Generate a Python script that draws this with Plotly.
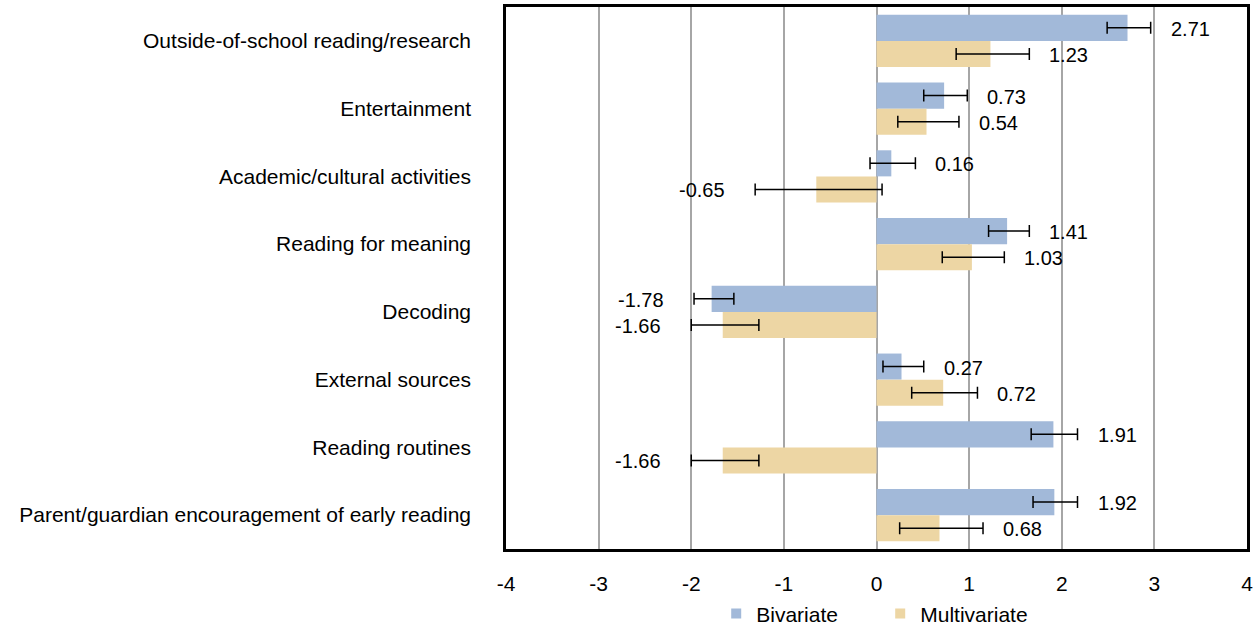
import plotly.graph_objects as go

categories = [
    "Outside-of-school reading/research",
    "Entertainment",
    "Academic/cultural activities",
    "Reading for meaning",
    "Decoding",
    "External sources",
    "Reading routines",
    "Parent/guardian encouragement of early reading",
]
biv_values = [2.71, 0.73, 0.16, 1.41, -1.78, 0.27, 1.91, 1.92]
biv_lo = [2.49, 0.51, -0.07, 1.21, -1.97, 0.07, 1.67, 1.69]
biv_hi = [2.96, 0.98, 0.42, 1.65, -1.54, 0.51, 2.17, 2.17]
mult_values = [1.23, 0.54, -0.65, 1.03, -1.66, 0.72, -1.66, 0.68]
mult_lo = [0.86, 0.23, -1.31, 0.71, -2.00, 0.38, -2.00, 0.25]
mult_hi = [1.65, 0.89, 0.06, 1.38, -1.27, 1.09, -1.27, 1.15]
x_ticks = [-4, -3, -2, -1, 0, 1, 2, 3, 4]

FONT = "Liberation Sans, Arial, sans-serif"
BLUE = "#A2B9D9"
TAN = "#EDD6A4"
BARGAP = 0.23

idx = list(range(len(categories)))

fig = go.Figure()
series = [
    ("Bivariate", biv_values, biv_lo, biv_hi, BLUE),
    ("Multivariate", mult_values, mult_lo, mult_hi, TAN),
]
for name, vals, lo, hi, col in series:
    fig.add_trace(go.Bar(
        name=name, y=idx, x=vals, orientation="h",
        marker=dict(color=col, line=dict(width=0)),
        showlegend=False,
        error_x=dict(type="data", symmetric=False,
                     array=[h - v for v, h in zip(vals, hi)],
                     arrayminus=[v - l for v, l in zip(vals, lo)],
                     color="black", thickness=1.5, width=6),
    ))
# legend entries (small square swatches)
for name, vals, lo, hi, col in series:
    fig.add_trace(go.Scatter(
        name=name, x=[None], y=[None], mode="markers",
        marker=dict(symbol="square", size=10, color=col),
        showlegend=True,
    ))

bar_w = (1 - BARGAP) / 2
annotations = []
for k, (name, vals, lo, hi, col) in enumerate(series):
    off = -bar_w / 2 if k == 0 else bar_w / 2
    for i, v in enumerate(vals):
        pos = v >= 0
        annotations.append(dict(
            x=hi[i] if pos else lo[i], y=i + off, xref="x", yref="y",
            text=f"{v:.2f}", showarrow=False,
            xanchor="left" if pos else "right",
            xshift=18 if pos else -28, yshift=-1,
            font=dict(family=FONT, size=20, color="black"),
        ))

fig.update_layout(
    width=1257, height=628,
    margin=dict(l=506, r=10, t=7, b=79, autoexpand=False),
    paper_bgcolor="white", plot_bgcolor="white",
    barmode="group", bargap=BARGAP, bargroupgap=0,
    font=dict(family=FONT, size=21, color="black"),
    showlegend=True,
    legend=dict(orientation="h", x=0.505, xanchor="center", y=-0.082, yanchor="top",
                font=dict(family=FONT, size=21, color="black"),
                itemwidth=30, entrywidth=119, traceorder="normal"),
    annotations=annotations,
)
fig.update_xaxes(
    range=[-4, 4], tickvals=x_ticks, ticktext=[str(t) for t in x_ticks],
    showgrid=True, gridcolor="#A6A6A6", gridwidth=1.5,
    zeroline=True, zerolinecolor="#A6A6A6", zerolinewidth=1.5,
    showline=True, linecolor="black", linewidth=2.5, mirror=True,
    ticks="", ticklabelstandoff=14,
    tickfont=dict(family=FONT, size=21, color="black"),
)
fig.update_yaxes(
    range=[len(categories) - 0.5, -0.5], tickvals=idx, ticktext=categories,
    showgrid=False, zeroline=False,
    showline=True, linecolor="black", linewidth=2.5, mirror=True,
    ticks="", ticklabelstandoff=28,
    tickfont=dict(family=FONT, size=21, color="black"),
)

fig.write_html("out.html", config={"displayModeBar": False},
               post_script="document.body.style.margin='0';")
